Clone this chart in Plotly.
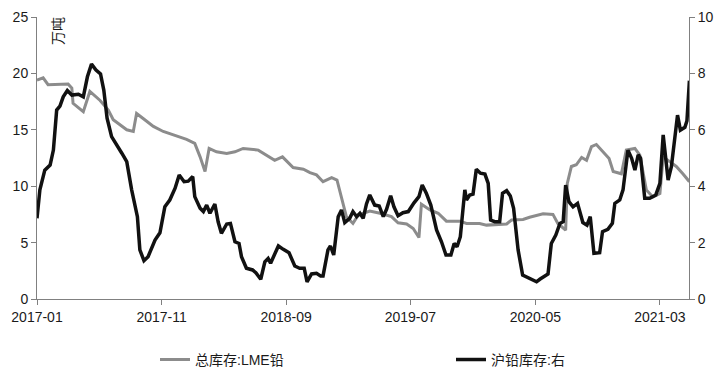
import plotly.graph_objects as go

# 总库存:LME铅 (万吨, left axis)
lme_dates = [
    "2017-01-01", "2017-01-16", "2017-01-28", "2017-02-18", "2017-03-18", "2017-03-27",
    "2017-03-30", "2017-04-24", "2017-05-10", "2017-06-04", "2017-06-24", "2017-07-06",
    "2017-07-27", "2017-08-08", "2017-08-24", "2017-09-01", "2017-09-17", "2017-10-12",
    "2017-11-05", "2017-12-08", "2018-01-01", "2018-01-21", "2018-02-03", "2018-02-15",
    "2018-02-25", "2018-03-15", "2018-04-09", "2018-04-29", "2018-05-19", "2018-06-25",
    "2018-07-15", "2018-08-04", "2018-08-23", "2018-09-18", "2018-10-13", "2018-10-29",
    "2018-11-14", "2018-11-30", "2018-12-21", "2019-01-03", "2019-01-26", "2019-02-11",
    "2019-02-24", "2019-03-24", "2019-04-18", "2019-05-16", "2019-06-01", "2019-06-22",
    "2019-07-08", "2019-07-22", "2019-07-28", "2019-08-18", "2019-09-07", "2019-09-27",
    "2019-10-30", "2019-11-15", "2019-12-17", "2020-01-03", "2020-02-21", "2020-03-04",
    "2020-04-01", "2020-04-17", "2020-05-20", "2020-06-13", "2020-06-25", "2020-07-08",
    "2020-07-14", "2020-07-18", "2020-07-28", "2020-08-09", "2020-08-22", "2020-09-03",
    "2020-09-15", "2020-09-27", "2020-10-13", "2020-10-28", "2020-11-07", "2020-11-27",
    "2020-12-09", "2020-12-30", "2021-01-11", "2021-01-27", "2021-02-12", "2021-03-01",
    "2021-03-09", "2021-03-25", "2021-04-10", "2021-04-26", "2021-05-12",
]
lme_values = [
    19.4, 19.6, 19.0, 19.05, 19.05, 18.7,
    17.35, 16.6, 18.4, 17.6, 16.75, 15.9,
    15.3, 15.0, 14.85, 16.45, 16.0, 15.3,
    14.85, 14.45, 14.15, 13.8, 12.6, 11.3,
    13.35, 13.05, 12.9, 13.05, 13.35, 13.2,
    12.75, 12.3, 12.6, 11.65, 11.5, 11.2,
    11.0, 10.4, 10.75, 10.55, 7.3, 6.7,
    7.45, 7.8, 7.6, 7.3, 6.75, 6.65,
    6.25, 5.45, 8.4, 7.9, 7.6, 6.9,
    6.9, 6.7, 6.7, 6.55, 6.65, 7.0,
    7.05, 7.25, 7.55, 7.5, 6.7, 6.25,
    6.1, 10.25, 11.75, 11.9, 12.55, 12.3,
    13.5, 13.7, 13.05, 12.45, 11.3, 11.1,
    13.2, 13.35, 12.75, 9.65, 9.05, 9.35,
    12.6, 12.15, 11.75, 11.1, 10.4,
]

# 沪铅库存:右 (万吨, right axis)
shfe_dates = [
    "2017-01-01", "2017-01-08", "2017-01-20", "2017-02-02", "2017-02-10", "2017-02-18",
    "2017-02-26", "2017-03-06", "2017-03-16", "2017-03-27", "2017-04-12", "2017-04-24",
    "2017-05-04", "2017-05-14", "2017-05-25", "2017-06-05", "2017-06-13", "2017-06-21",
    "2017-07-02", "2017-07-14", "2017-07-27", "2017-08-08", "2017-08-20", "2017-09-03",
    "2017-09-09", "2017-09-19", "2017-09-29", "2017-10-16", "2017-10-28", "2017-11-09",
    "2017-11-21", "2017-12-04", "2017-12-14", "2017-12-26", "2018-01-05", "2018-01-16",
    "2018-01-21", "2018-02-03", "2018-02-11", "2018-02-19", "2018-02-27", "2018-03-11",
    "2018-03-19", "2018-03-27", "2018-04-09", "2018-04-18", "2018-04-29", "2018-05-09",
    "2018-05-15", "2018-05-27", "2018-06-11", "2018-06-19", "2018-07-01", "2018-07-11",
    "2018-07-19", "2018-07-25", "2018-08-13", "2018-08-25", "2018-09-08", "2018-09-22",
    "2018-10-04", "2018-10-15", "2018-10-22", "2018-11-02", "2018-11-14", "2018-11-24",
    "2018-11-30", "2018-12-12", "2018-12-18", "2018-12-26", "2019-01-06", "2019-01-14",
    "2019-01-22", "2019-02-03", "2019-02-11", "2019-02-20", "2019-02-28", "2019-03-08",
    "2019-03-16", "2019-03-24", "2019-04-05", "2019-04-16", "2019-04-26", "2019-05-04",
    "2019-05-14", "2019-05-22", "2019-06-01", "2019-06-13", "2019-06-26", "2019-07-10",
    "2019-07-22", "2019-07-30", "2019-08-09", "2019-08-20", "2019-09-03", "2019-09-15",
    "2019-09-26", "2019-10-08", "2019-10-16", "2019-10-23", "2019-10-31", "2019-11-11",
    "2019-11-15", "2019-11-23", "2019-12-01", "2019-12-09", "2019-12-19", "2019-12-30",
    "2020-01-07", "2020-01-13", "2020-01-23", "2020-02-04", "2020-02-11", "2020-02-21",
    "2020-03-01", "2020-03-09", "2020-03-20", "2020-03-31", "2020-04-13", "2020-05-04",
    "2020-05-12", "2020-06-01", "2020-06-09", "2020-06-20", "2020-06-30", "2020-07-08",
    "2020-07-14", "2020-07-22", "2020-08-01", "2020-08-12", "2020-08-25", "2020-09-04",
    "2020-09-12", "2020-09-21", "2020-10-05", "2020-10-12", "2020-10-25", "2020-11-05",
    "2020-11-11", "2020-11-23", "2020-12-01", "2020-12-13", "2020-12-22", "2020-12-30",
    "2021-01-07", "2021-01-13", "2021-01-23", "2021-02-04", "2021-02-19", "2021-03-01",
    "2021-03-09", "2021-03-15", "2021-03-21", "2021-03-29", "2021-04-06", "2021-04-13",
    "2021-04-20", "2021-05-01", "2021-05-06", "2021-05-12",
]
shfe_values = [
    2.86, 3.87, 4.57, 4.75, 5.28, 6.70,
    6.84, 7.17, 7.39, 7.23, 7.26, 7.17,
    7.88, 8.33, 8.12, 7.98, 7.41, 6.41,
    5.76, 5.49, 5.17, 4.87, 3.87, 2.92,
    1.74, 1.36, 1.50, 2.09, 2.35, 3.27,
    3.51, 3.93, 4.40, 4.16, 4.18, 4.34,
    3.63, 3.22, 3.10, 3.33, 3.04, 3.37,
    2.74, 2.33, 2.66, 2.68, 2.03, 1.97,
    1.50, 1.09, 1.03, 0.93, 0.70, 1.32,
    1.44, 1.27, 1.88, 1.76, 1.64, 1.17,
    1.09, 1.09, 0.61, 0.89, 0.91, 0.82,
    0.82, 1.74, 1.88, 1.56, 2.92, 3.16,
    2.71, 2.86, 3.10, 2.92, 3.04, 2.86,
    3.37, 3.69, 3.33, 3.30, 2.92, 3.18,
    3.66, 3.27, 2.95, 3.06, 3.10, 3.41,
    3.63, 4.04, 3.75, 3.33, 2.45, 2.03,
    1.56, 1.56, 1.97, 1.85, 2.21, 3.87,
    3.51, 3.69, 3.72, 4.60, 4.46, 4.43,
    4.10, 2.80, 2.74, 2.74, 3.75, 3.84,
    3.65, 3.22, 1.74, 0.85, 0.77, 0.61,
    0.70, 0.89, 1.97, 2.27, 2.68, 2.74,
    4.04, 3.45, 3.27, 3.39, 2.71, 2.62,
    2.92, 1.62, 1.64, 2.39, 2.47, 2.68,
    3.39, 3.51, 3.87, 5.28, 4.99, 4.57,
    5.11, 4.99, 3.57, 3.57, 3.69, 4.10,
    5.82, 4.93, 4.22, 4.69, 5.58, 6.52,
    5.99, 6.09, 6.32, 7.74,
]

left_ticks = [0, 5, 10, 15, 20, 25]
right_ticks = [0, 2, 4, 6, 8, 10]
font_family = "Liberation Sans, Arial, Noto Sans CJK SC, sans-serif"
axis_color = "#808080"
text_color = "#1a1a1a"

fig = go.Figure()
fig.add_trace(go.Scatter(
    x=lme_dates, y=lme_values, name="总库存:LME铅", mode="lines",
    line=dict(color="#8c8c8c", width=3), yaxis="y", legend="legend",
))
fig.add_trace(go.Scatter(
    x=shfe_dates, y=shfe_values, name="沪铅库存:右", mode="lines",
    line=dict(color="#111111", width=3.5), yaxis="y2", legend="legend2",
))

legend_common = dict(
    orientation="h", xanchor="left", yanchor="middle", y=-0.216,
    font=dict(size=14, color=text_color), bgcolor="rgba(0,0,0,0)",
)

fig.update_layout(
    width=722, height=376,
    margin=dict(l=37, r=33, t=17, b=77, autoexpand=False),
    paper_bgcolor="white", plot_bgcolor="white",
    font=dict(family=font_family, size=14, color=text_color),
    showlegend=True,
    legend=dict(x=0.181, **legend_common),
    legend2=dict(x=0.635, **legend_common),
    xaxis=dict(
        type="date", range=["2017-01-01", "2021-05-11"],
        tick0="2017-01-01", dtick="M10", tickformat="%Y-%m",
        showgrid=False, zeroline=False, automargin=False,
        showline=True, linecolor=axis_color, linewidth=1,
        ticks="outside", ticklen=5, tickcolor=axis_color,
        tickfont=dict(size=14, color=text_color),
    ),
    yaxis=dict(
        range=[0, 25], tickvals=left_ticks, automargin=False,
        showgrid=False, zeroline=False,
        showline=True, linecolor=axis_color, linewidth=1,
        ticks="outside", ticklen=5, tickcolor=axis_color,
        tickfont=dict(size=14, color=text_color),
    ),
    yaxis2=dict(
        range=[0, 10], tickvals=right_ticks, overlaying="y", side="right",
        showgrid=False, zeroline=False, automargin=False,
        showline=True, linecolor=axis_color, linewidth=1,
        ticks="outside", ticklen=5, tickcolor=axis_color,
        tickfont=dict(size=14, color=text_color),
    ),
    annotations=[dict(
        text="万吨", xref="paper", yref="paper", x=0.032, y=0.95,
        showarrow=False, textangle=-90, font=dict(size=14, color=text_color),
        xanchor="center", yanchor="middle",
    )],
)

fig.write_html(
    "out.html",
    config={"displayModeBar": False},
    post_script="document.body.style.margin='0';document.body.style.overflow='hidden';",
)
